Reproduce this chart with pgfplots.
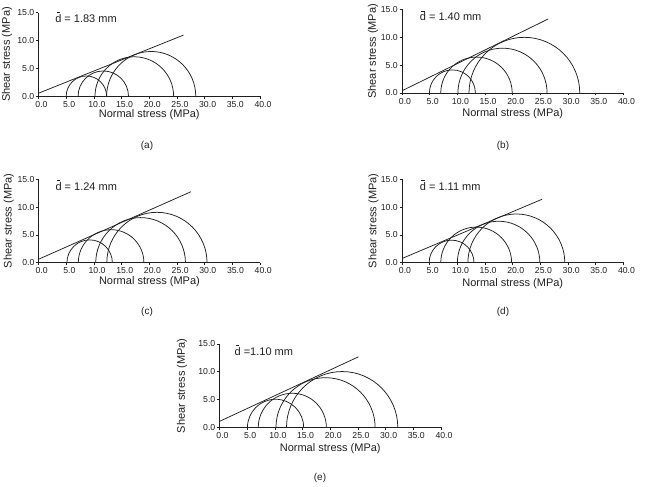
\documentclass[border=0pt]{standalone}
\usepackage{fontspec}
\setmainfont{Liberation Sans}
\usepackage{pgfplots}
\pgfplotsset{compat=1.18}
\definecolor{ink}{gray}{0.12}
\pgfplotsset{
  mohr/.style={
    scale only axis, width=221.5pt, height=83.5pt,
    xmin=0, xmax=40, ymin=0, ymax=15,
    axis lines=left, axis line style={-, line width=0.7pt, ink},
    xtick={0,5,...,40}, ytick={0,5,10,15},
    xticklabels={0.0,5.0,10.0,15.0,20.0,25.0,30.0,35.0,40.0},
    yticklabels={0.0,5.0,10.0,15.0},
    tick align=outside, major tick length=2.5pt,
    tick style={line width=0.7pt, ink},
    xticklabel style={font=\fontsize{8.7}{10}\selectfont, text=ink, xshift=3pt, yshift=-1.5pt, inner sep=1pt},
    yticklabel style={font=\fontsize{8.7}{10}\selectfont, text=ink, inner sep=1.5pt},
    xlabel={Normal stress (MPa)}, ylabel={Shear stress (MPa)},
    every axis x label/.style={at={(axis description cs:0.5,0)}, anchor=center, font=\fontsize{11}{13}\selectfont, text=ink},
    every axis y label/.style={at={(axis description cs:0,0.5)}, anchor=center, rotate=90, font=\fontsize{11}{13}\selectfont, text=ink},
    clip=true,
  },
  env/.style={no marks, line width=0.75pt, ink},
}
\tikzset{
  circ/.style={line width=0.75pt, ink},
  dlab/.style={anchor=west, font=\fontsize{11}{13}\selectfont, text=ink, inner sep=0pt},
}
\newcommand{\dbar}{\makebox[0pt][l]{\hspace{0.13em}\rule[0.85em]{0.3em}{0.07em}}d}
\begin{document}
\begin{tikzpicture}
\useasboundingbox (0pt,0pt) rectangle (645pt,487pt);
% (a)
\begin{axis}[mohr, at={(38.5pt,390.7pt)}, anchor=south west,
  xlabel style={yshift=-18.5pt}, ylabel style={yshift=31.5pt}]
  \addplot[env] coordinates {(0,0.55) (26.2,11.0)};
  \draw[circ] (axis cs:8.65,0) ellipse [x radius=3.65, y radius=3.65];
  \draw[circ] (axis cs:11.7,0) ellipse [x radius=4.55, y radius=4.55];
  \draw[circ] (axis cs:17.3,0) ellipse [x radius=7.1, y radius=7.1];
  \draw[circ] (axis cs:20.35,0) ellipse [x radius=8.05, y radius=8.05];
  \coordinate (da) at (axis cs:3,14.2);
\end{axis}
\node[dlab] at (da) {\dbar\ = 1.83 mm};
% (b)
\begin{axis}[mohr, at={(402pt,394pt)}, anchor=south west,
  xlabel style={yshift=-21pt}, ylabel style={yshift=29pt}]
  \addplot[env] coordinates {(0,0.4) (26.4,13.3)};
  \draw[circ] (axis cs:9.1,0) ellipse [x radius=4.15, y radius=4.15];
  \draw[circ] (axis cs:13.45,0) ellipse [x radius=6.45, y radius=6.45];
  \draw[circ] (axis cs:18.15,0) ellipse [x radius=8.05, y radius=8.05];
  \draw[circ] (axis cs:22.1,0) ellipse [x radius=10.0, y radius=10.0];
  \coordinate (db) at (axis cs:3.2,13.9);
\end{axis}
\node[dlab] at (db) {\dbar\ = 1.40 mm};
% (c)
\begin{axis}[mohr, at={(38.7pt,224.3pt)}, anchor=south west,
  xlabel style={yshift=-18.5pt}, ylabel style={yshift=30pt}]
  \addplot[env] coordinates {(0,0.63) (27.5,12.75)};
  \draw[circ] (axis cs:9.2,0) ellipse [x radius=4.1, y radius=4.1];
  \draw[circ] (axis cs:13.075,0) ellipse [x radius=5.925, y radius=5.925];
  \draw[circ] (axis cs:18.4,0) ellipse [x radius=8.1, y radius=8.1];
  \draw[circ] (axis cs:21.35,0) ellipse [x radius=9.05, y radius=9.05];
  \coordinate (dc) at (axis cs:3,13.9);
\end{axis}
\node[dlab] at (dc) {\dbar\ = 1.24 mm};
% (d)
\begin{axis}[mohr, at={(402pt,224.3pt)}, anchor=south west,
  xlabel style={yshift=-21pt}, ylabel style={yshift=28.5pt}]
  \addplot[env] coordinates {(0,0.75) (25.3,11.4)};
  \draw[circ] (axis cs:8.95,0) ellipse [x radius=4.05, y radius=4.05];
  \draw[circ] (axis cs:13.4,0) ellipse [x radius=6.4, y radius=6.4];
  \draw[circ] (axis cs:17.45,0) ellipse [x radius=7.45, y radius=7.45];
  \draw[circ] (axis cs:20.65,0) ellipse [x radius=8.75, y radius=8.75];
  \coordinate (dd) at (axis cs:3.2,13.9);
\end{axis}
\node[dlab] at (dd) {\dbar\ = 1.11 mm};
% (e)
\begin{axis}[mohr, at={(219.5pt,59.5pt)}, anchor=south west,
  xlabel style={yshift=-21.5pt}, ylabel style={yshift=37.5pt}]
  \addplot[env] coordinates {(0,1.1) (25.1,12.7)};
  \draw[circ] (axis cs:10.125,0) ellipse [x radius=5.075, y radius=5.075];
  \draw[circ] (axis cs:13.15,0) ellipse [x radius=6.15, y radius=6.15];
  \draw[circ] (axis cs:19.15,0) ellipse [x radius=8.95, y radius=8.95];
  \draw[circ] (axis cs:22.15,0) ellipse [x radius=10.05, y radius=10.05];
  \coordinate (de) at (axis cs:2.7,13.9);
\end{axis}
\node[dlab] at (de) {\dbar\ =1.10 mm};
\node[font=\fontsize{10}{12}\selectfont, text=ink] at (147pt,341pt) {(a)};
\node[font=\fontsize{10}{12}\selectfont, text=ink] at (503pt,341pt) {(b)};
\node[font=\fontsize{10}{12}\selectfont, text=ink] at (147pt,175pt) {(c)};
\node[font=\fontsize{10}{12}\selectfont, text=ink] at (503pt,175pt) {(d)};
\node[font=\fontsize{10}{12}\selectfont, text=ink] at (320pt,9pt) {(e)};
\end{tikzpicture}
\end{document}
